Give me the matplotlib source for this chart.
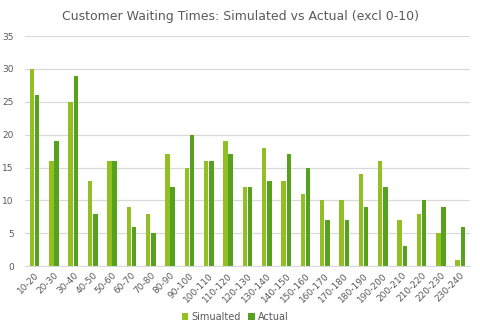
import matplotlib
matplotlib.use("Agg")
import matplotlib.pyplot as plt
import numpy as np

# waiting time buckets (minutes), 0-10 left out
buckets = ["10-20", "20-30", "30-40", "40-50", "50-60", "60-70", "70-80", "80-90",
           "90-100", "100-110", "110-120", "120-130", "130-140", "140-150", "150-160",
           "160-170", "170-180", "180-190", "190-200", "200-210", "210-220", "220-230",
           "230-240"]
simulated = [30, 16, 25, 13, 16, 9, 8, 17, 15, 16, 19, 12, 18, 13, 11, 10, 10, 14, 16, 7, 8, 5, 1]
actual = [26, 19, 29, 8, 16, 6, 5, 12, 20, 16, 17, 12, 13, 17, 15, 7, 7, 9, 12, 3, 10, 9, 6]

light = "#92C022"
dark = "#56A21F"
grey = "#595959"

fig = plt.figure(figsize=(4.8, 3.31), dpi=100)
ax = fig.add_axes([0.052, 0.196, 0.927, 0.695])

x = np.arange(len(buckets))
w = 0.23
ax.bar(x - 0.135, simulated, w, color=light, label="Simualted")
ax.bar(x + 0.135, actual, w, color=dark, label="Actual")

ax.set_xlim(-0.5, len(buckets) - 0.5)
ax.set_ylim(0, 35)
ax.set_yticks(range(0, 36, 5))
ax.yaxis.grid(True, color="#D9D9D9", linewidth=0.9)
ax.set_axisbelow(True)
for s in ["top", "right", "left"]:
    ax.spines[s].set_visible(False)
ax.spines["bottom"].set_color("#D9D9D9")
ax.tick_params(axis="both", length=0, labelsize=6.5, colors=grey)
ax.tick_params(axis="y", pad=8)
ax.set_xticks(x)
ax.set_xticklabels(buckets, rotation=45, ha="right", rotation_mode="anchor")

fig.suptitle("Customer Waiting Times: Simulated vs Actual (excl 0-10)",
             x=0.50, y=0.97, fontsize=9, color=grey)
fig.legend(loc="lower center", bbox_to_anchor=(0.49, 0.0), ncol=2, frameon=False,
           fontsize=7, handlelength=0.7, handleheight=0.7, handletextpad=0.3,
           columnspacing=0.8, labelcolor=grey)

fig.savefig("out.png", dpi=100)
